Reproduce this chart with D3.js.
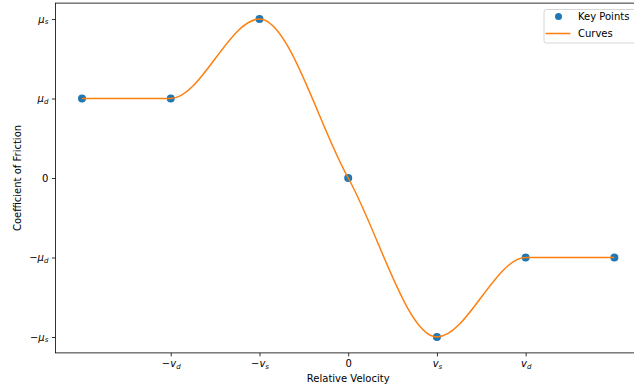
<!DOCTYPE html>
<html lang="en">
<head>
    <meta charset="UTF-8">
    <title>Friction Curve</title>
    <script src="https://d3js.org/d3.v7.min.js"></script>
    <style>
        body { margin: 0; background: #fff; }
        text { font-family: "DejaVu Sans", sans-serif; fill: #000; }
        .tick text { font-size: 10px; }
    </style>
</head>
<body>
    <div id="chart"></div>

    <script>
        // key points of the friction curve (v_s = 1, v_d = 2, mu_d = 1, mu_s = 2)
        const keyX = [-3, -2, -1, 0, 1, 2, 3];
        const keyY = [1, 1, 2, 0, -2, -1, -1];

        const xTicks = [-2, -1, 0, 1, 2];
        const xTickLabels = [["−", "v", "d"], ["−", "v", "s"], ["", "0", ""], ["", "v", "s"], ["", "v", "d"]];
        const yTicks = [2, 1, 0, -1, -2];
        const yTickLabels = [["", "μ", "s"], ["", "μ", "d"], ["", "0", ""], ["−", "μ", "d"], ["−", "μ", "s"]];

        const W = 634, H = 392;
        const margin = { top: 3.1, right: -7, bottom: 39.1, left: 55.4 };
        const width = W - margin.left - margin.right;
        const height = H - margin.top - margin.bottom;

        const svgRoot = d3.select("#chart")
            .append("svg")
            .attr("width", W)
            .attr("height", H);

        const svg = svgRoot.append("g")
            .attr("transform", `translate(${margin.left},${margin.top})`);

        const xScale = d3.scaleLinear().domain([-3.3, 3.3]).range([0, width]);
        const yScale = d3.scaleLinear().domain([-2.2, 2.2]).range([height, 0]);

        const points = keyX.map((x, i) => ({ x: x, y: keyY[i] }));

        // label helper: sign + italic symbol + subscript
        function mathLabel(sel, parts) {
            sel.text(null);
            if (parts[0]) sel.append("tspan").text(parts[0]);
            if (parts[2]) {
                sel.append("tspan").style("font-style", "italic").text(parts[1]);
                sel.append("tspan").attr("dy", "0.25em").style("font-size", "7px").style("font-style", "italic").text(parts[2]);
            } else {
                sel.append("tspan").text(parts[1]);
            }
        }

        const xAxis = svg.append("g")
            .attr("transform", `translate(0,${height})`)
            .call(d3.axisBottom(xScale).tickValues(xTicks).tickSize(3.5).tickPadding(3.5));
        xAxis.selectAll(".tick text").each(function(d, i) { mathLabel(d3.select(this), xTickLabels[i]); });

        const yAxis = svg.append("g")
            .call(d3.axisLeft(yScale).tickValues(yTicks).tickSize(3.5).tickPadding(3.5));
        yAxis.selectAll(".tick text").each(function(d, i) { mathLabel(d3.select(this), yTickLabels[i]); });

        svg.selectAll(".domain").remove();
        svg.selectAll(".tick line").attr("stroke", "#000").attr("stroke-width", 0.8);

        // frame
        svg.append("rect")
            .attr("width", width)
            .attr("height", height)
            .attr("fill", "none")
            .attr("stroke", "#000")
            .attr("stroke-width", 0.8);

        svg.selectAll(".dot")
            .data(points)
            .enter()
            .append("circle")
            .attr("class", "dot")
            .attr("cx", d => xScale(d.x))
            .attr("cy", d => yScale(d.y))
            .attr("r", 4)
            .attr("fill", "#1f77b4");

        svg.append("path")
            .datum(points)
            .attr("d", d3.line().x(d => xScale(d.x)).y(d => yScale(d.y)).curve(d3.curveMonotoneX))
            .attr("fill", "none")
            .attr("stroke", "#ff7f0e")
            .attr("stroke-width", 1.5);

        // axis labels
        svgRoot.append("text")
            .attr("x", margin.left + xScale(0))
            .attr("y", 382)
            .attr("text-anchor", "middle")
            .style("font-size", "10px")
            .text("Relative Velocity");

        svgRoot.append("text")
            .attr("transform", `translate(21,${margin.top + yScale(0)}) rotate(-90)`)
            .attr("text-anchor", "middle")
            .style("font-size", "10px")
            .text("Coefficient of Friction");

        // legend
        const legend = svgRoot.append("g").attr("transform", "translate(544,9.5)");
        legend.append("rect")
            .attr("width", 96)
            .attr("height", 33.5)
            .attr("rx", 2.5)
            .attr("fill", "#fff")
            .attr("fill-opacity", 0.8)
            .attr("stroke", "#ccc")
            .attr("stroke-width", 0.8);

        const legendItems = ["Key Points", "Curves"];
        legend.append("circle")
            .attr("cx", 14.5)
            .attr("cy", 7)
            .attr("r", 3.5)
            .attr("fill", "#1f77b4");
        legend.append("line")
            .attr("x1", 1.5).attr("x2", 26.5)
            .attr("y1", 24).attr("y2", 24)
            .attr("stroke", "#ff7f0e")
            .attr("stroke-width", 1.5);
        legend.selectAll(".legend-text")
            .data(legendItems)
            .enter()
            .append("text")
            .attr("class", "legend-text")
            .attr("x", 34)
            .attr("y", (d, i) => 7 + i * 17)
            .attr("dy", "0.35em")
            .style("font-size", "10px")
            .text(d => d);
    </script>
</body>
</html>
